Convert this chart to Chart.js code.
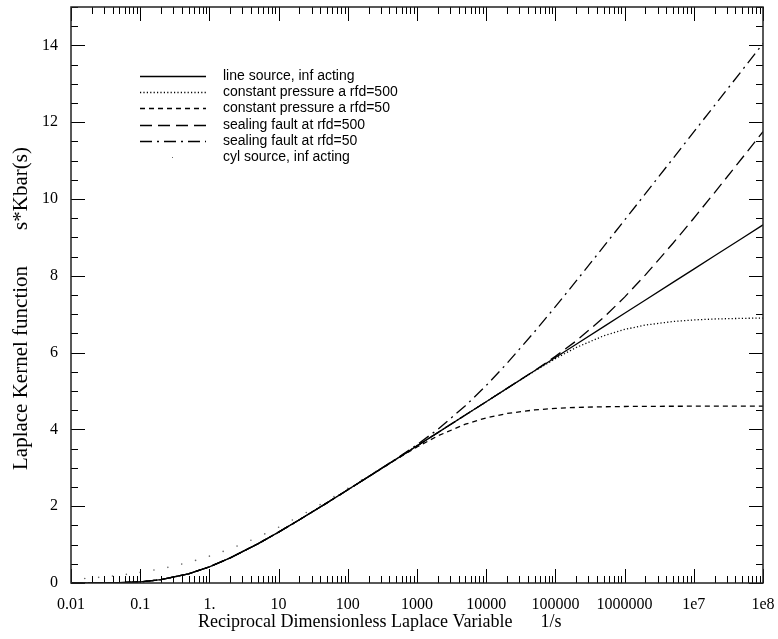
<!DOCTYPE html>
<html>
<head>
<meta charset="utf-8">
<script src="https://cdn.jsdelivr.net/npm/chart.js@4"></script>
<style>
  body { margin: 0; background: #fff; }
  canvas { display: block; }
</style>
</head>
<body>
<canvas id="kernelChart" width="778" height="639"></canvas>
<script>
// reciprocal dimensionless Laplace variable (1/s)
const xValues = [0.01, 0.02, 0.05, 0.1, 0.2, 0.5, 1, 2, 5, 10, 20, 50, 100, 200, 500,
    1e3, 2e3, 5e3, 1e4, 2e4, 5e4, 1e5, 2e5, 5e5, 1e6, 2e6, 5e6, 1e7, 2e7, 5e7, 1e8];

// s*Kbar(s) for each case
const lineSource = [0.0000, 0.0004, 0.0066, 0.0289, 0.0857, 0.2392, 0.4210, 0.6531, 1.0183, 1.3243,
    1.6466, 2.0874, 2.4270, 2.7698, 3.2254, 3.5711, 3.9170, 4.3749, 4.7212, 5.0677,
    5.5258, 5.8724, 6.2190, 6.6771, 7.0237, 7.3703, 7.8285, 8.1750, 8.5216, 8.9798, 9.3263];
const constP500 = [0.0000, 0.0004, 0.0066, 0.0289, 0.0857, 0.2392, 0.4210, 0.6531, 1.0183, 1.3243,
    1.6466, 2.0874, 2.4270, 2.7698, 3.2254, 3.5711, 3.9170, 4.3749, 4.7212, 5.0673,
    5.5192, 5.8435, 6.1333, 6.4379, 6.6027, 6.7172, 6.8102, 6.8507, 6.8750, 6.8924, 6.8993];
const constP50 = [0.0000, 0.0004, 0.0066, 0.0289, 0.0857, 0.2392, 0.4210, 0.6531, 1.0183, 1.3243,
    1.6466, 2.0874, 2.4270, 2.7694, 3.2188, 3.5422, 3.8313, 4.1357, 4.3002, 4.4146,
    4.5075, 4.5481, 4.5724, 4.5897, 4.5967, 4.6005, 4.6031, 4.6039, 4.6046, 4.6049, 4.6051];
const fault500 = [0.0000, 0.0004, 0.0066, 0.0289, 0.0857, 0.2392, 0.4210, 0.6531, 1.0183, 1.3243,
    1.6466, 2.0874, 2.4270, 2.7698, 3.2254, 3.5711, 3.9170, 4.3749, 4.7212, 5.0681,
    5.5324, 5.9013, 6.3047, 6.9163, 7.4447, 8.0234, 8.8468, 9.4993, 10.1682, 11.0672, 11.7533];
const fault50 = [0.0000, 0.0004, 0.0066, 0.0289, 0.0857, 0.2392, 0.4210, 0.6531, 1.0183, 1.3243,
    1.6466, 2.0874, 2.4270, 2.7702, 3.2320, 3.6000, 4.0027, 4.6141, 5.1422, 5.7208,
    6.5441, 7.1967, 7.8656, 8.7645, 9.4507, 10.1401, 11.0539, 11.7461, 12.4386, 13.3547, 14.0475];

// cylindrical source, sampled every 0.2 decade
const cylX = [0.01, 0.0158, 0.0251, 0.0398, 0.0631, 0.1, 0.158, 0.251, 0.398, 0.631, 1,
    1.58, 2.51, 3.98, 6.31, 10, 15.8, 25.1, 39.8, 63.1, 100, 158, 251, 398, 631, 1000];
const cylSource = [0.0953, 0.1187, 0.1473, 0.1822, 0.2247, 0.2760, 0.3375, 0.408, 0.4918, 0.5888, 0.6995,
    0.8235, 0.9615, 1.1135, 1.279, 1.453, 1.640, 1.836, 2.040, 2.249, 2.463, 2.682, 2.903, 3.126, 3.352, 3.578];

const xTickValues = [0.01, 0.1, 1, 10, 100, 1e3, 1e4, 1e5, 1e6, 1e7, 1e8];
const xTickLabels = ['0.01', '0.1', '1.', '10', '100', '1000', '10000', '100000', '1000000', '1e7', '1e8'];
const yTickValues = [0, 2, 4, 6, 8, 10, 12, 14];

const legendNames = ['line source, inf acting', 'constant pressure a rfd=500', 'constant pressure a rfd=50',
    'sealing fault at rfd=500', 'sealing fault at rfd=50', 'cyl source, inf acting'];

const serif = "'Liberation Serif', 'Times New Roman', serif";
const sans = "'Liberation Sans', Arial, sans-serif";

function toPoints(xs, ys) {
    return xs.map((x, i) => ({ x: x, y: ys[i] }));
}

function lineSet(label, ys, dash) {
    return {
        label: label,
        data: toPoints(xValues, ys),
        borderColor: '#000',
        borderWidth: 1.3,
        borderDash: dash,
        pointRadius: 0,
        fill: false,
        tension: 0
    };
}

const datasets = [
    lineSet(legendNames[0], lineSource, []),
    lineSet(legendNames[1], constP500, [1.2, 2.2]),
    lineSet(legendNames[2], constP50, [5, 4]),
    lineSet(legendNames[3], fault500, [12, 6]),
    lineSet(legendNames[4], fault50, [12, 5, 2, 5]),
    {
        label: legendNames[5],
        data: toPoints(cylX, cylSource),
        showLine: false,
        pointRadius: 0.8,
        pointBorderWidth: 0,
        pointBackgroundColor: '#666'
    }
];

// inward tick marks on all four sides, frame, legend and axis titles
const decorPlugin = {
    id: 'decor',
    afterDraw(chart) {
        const ctx = chart.ctx;
        const a = chart.chartArea;
        const xs = chart.scales.x, ys = chart.scales.y;
        ctx.save();
        ctx.strokeStyle = '#000';
        ctx.lineWidth = 1;

        // x ticks (log)
        for (let e = -2; e <= 8; e++) {
            const d = Math.pow(10, e);
            for (let k = 1; k <= 9; k++) {
                const v = d * k;
                if (v > 1e8 * 1.0001) break;
                const px = Math.round(xs.getPixelForValue(v)) + 0.5;
                const len = k === 1 ? 14 : 7;
                ctx.beginPath();
                ctx.moveTo(px, a.bottom); ctx.lineTo(px, a.bottom - len);
                ctx.moveTo(px, a.top); ctx.lineTo(px, a.top + len);
                ctx.stroke();
            }
        }
        // y ticks every 0.5
        for (let v = 0; v <= 15; v += 0.5) {
            const py = Math.round(ys.getPixelForValue(v)) + 0.5;
            const len = v % 2 === 0 ? 14 : 7;
            ctx.beginPath();
            ctx.moveTo(a.left, py); ctx.lineTo(a.left + len, py);
            ctx.moveTo(a.right, py); ctx.lineTo(a.right - len, py);
            ctx.stroke();
        }
        // frame
        ctx.lineWidth = 1.5;
        ctx.strokeStyle = '#222';
        ctx.strokeRect(a.left, a.top, a.right - a.left, a.bottom - a.top);

        // legend
        const lx0 = 140, lx1 = 206, tx = 223, ly0 = 76, dy = 16.2;
        ctx.font = '14px ' + sans;
        ctx.textBaseline = 'middle';
        ctx.fillStyle = '#000';
        chart.data.datasets.forEach((ds, i) => {
            const y = Math.round(ly0 + i * dy) + 0.5;
            if (ds.showLine === false) {
                ctx.fillStyle = '#666';
                ctx.fillRect(172, y - 0.5, 1, 1);
                ctx.fillStyle = '#000';
            } else {
                ctx.setLineDash(ds.borderDash);
                ctx.lineWidth = ds.borderWidth;
                ctx.strokeStyle = '#000';
                ctx.beginPath();
                ctx.moveTo(lx0, y); ctx.lineTo(lx1, y);
                ctx.stroke();
                ctx.setLineDash([]);
            }
            ctx.fillText(ds.label, tx, y);
        });

        // axis titles
        ctx.font = '18px ' + serif;
        ctx.textBaseline = 'alphabetic';
        ctx.textAlign = 'left';
        ctx.fillText('Reciprocal Dimensionless Laplace Variable', 198, 627);
        const w = ctx.measureText('Reciprocal Dimensionless Laplace Variable').width;
        ctx.fillText('1/s', 198 + w + 28, 627);

        ctx.font = '21px ' + serif;
        ctx.translate(27, 470);
        ctx.rotate(-Math.PI / 2);
        ctx.fillText('Laplace Kernel function', 0, 0);
        const w2 = ctx.measureText('Laplace Kernel function').width;
        ctx.fillText('s*Kbar(s)', w2 + 36, 0);
        ctx.restore();
    }
};

const chart = new Chart(document.getElementById('kernelChart').getContext('2d'), {
    type: 'line',
    data: { datasets: datasets },
    options: {
        responsive: false,
        animation: false,
        layout: { padding: { top: 7, right: 15, left: 0, bottom: 0 } },
        plugins: { legend: { display: false }, tooltip: { enabled: false } },
        scales: {
            x: {
                type: 'logarithmic',
                min: 0.01,
                max: 1e8,
                grid: { display: false, drawTicks: false },
                border: { display: false },
                afterBuildTicks: s => { s.ticks = xTickValues.map(v => ({ value: v })); },
                afterFit: s => { s.height = 56; s.paddingLeft = 0; s.paddingRight = 0; },
                ticks: {
                    autoSkip: false,
                    maxRotation: 0,
                    padding: 12,
                    color: '#000',
                    font: { family: serif, size: 16 },
                    callback: (v, i) => xTickLabels[i]
                }
            },
            y: {
                type: 'linear',
                min: 0,
                max: 15,
                grid: { display: false, drawTicks: false },
                border: { display: false },
                afterBuildTicks: s => { s.ticks = yTickValues.map(v => ({ value: v })); },
                afterFit: s => { s.width = 71; s.paddingTop = 0; s.paddingBottom = 0; },
                ticks: {
                    padding: 13,
                    color: '#000',
                    font: { family: serif, size: 16 }
                }
            }
        }
    },
    plugins: [decorPlugin]
});
</script>
</body>
</html>
